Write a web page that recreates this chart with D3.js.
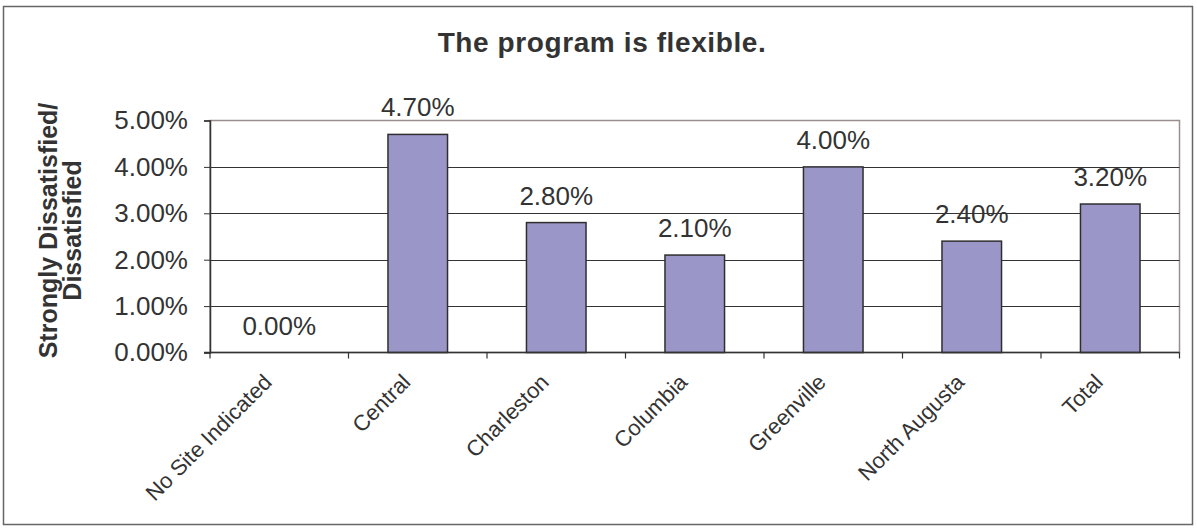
<!DOCTYPE html>
<html><head><meta charset="utf-8">
<script src="https://cdn.jsdelivr.net/npm/d3@7"></script>
<style>
body{margin:0;background:#fff}
svg{display:block}
text{font-family:"Liberation Sans",Arial,sans-serif;fill:#333}
</style>
</head><body><svg id="c" width="1197" height="529"></svg>
<script>
const categories = ["No Site Indicated","Central","Charleston","Columbia","Greenville","North Augusta","Total"];
const values = [0.000, 0.047, 0.028, 0.021, 0.040, 0.024, 0.032];
const yTicks = [0, 0.01, 0.02, 0.03, 0.04, 0.05];
const chartTitle = "The program is flexible.";
const yTitleLines = ["Strongly Dissatisfied/", "Dissatisfied"];

const W = 1197, H = 529;
const plot = {left: 210, right: 1179.5, top: 120.5, bottom: 352.5};
const svg = d3.select("#c");

// outer frame
svg.append("rect").attr("x", 3.5).attr("y", 6.5).attr("width", 1189).attr("height", 518)
  .attr("fill", "#fff").attr("stroke", "#666").attr("stroke-width", 1.5);

const x = d3.scaleBand().domain(categories).range([plot.left, plot.right]).padding(0);
const y = d3.scaleLinear().domain([0, 0.05]).range([plot.bottom, plot.top]);
const fmt = d3.format(".2%");

// plot area border (top/right)
svg.append("rect").attr("x", plot.left).attr("y", plot.top)
  .attr("width", plot.right - plot.left).attr("height", plot.bottom - plot.top)
  .attr("fill", "none").attr("stroke", "#9a8e8e").attr("stroke-width", 1.5);

// gridlines
svg.append("g").selectAll("line").data(yTicks.filter(t => t > 0 && t < 0.05)).join("line")
  .attr("x1", plot.left).attr("x2", plot.right)
  .attr("y1", d => Math.round(y(d)) + 0.5).attr("y2", d => Math.round(y(d)) + 0.5)
  .attr("stroke", "#333").attr("stroke-width", 1);

// bars
const barFrac = 0.43;
svg.append("g").selectAll("rect").data(categories.map((c, i) => ({c, v: values[i]})).filter(d => d.v > 0)).join("rect")
  .attr("x", d => x(d.c) + x.bandwidth() * (1 - barFrac) / 2)
  .attr("width", x.bandwidth() * barFrac)
  .attr("y", d => y(d.v))
  .attr("height", d => y(0) - y(d.v))
  .attr("fill", "#9b96c8").attr("stroke", "#2e2e2e").attr("stroke-width", 1.5);

// y axis
const yAxis = d3.axisLeft(y).tickValues(yTicks).tickFormat(fmt).tickSize(6).tickPadding(16);
const gy = svg.append("g").attr("transform", `translate(${plot.left},0)`).call(yAxis);
gy.select(".domain").attr("stroke", "#333").attr("stroke-width", 1.5);
gy.selectAll(".tick line").attr("stroke", "#333");
gy.selectAll(".tick text").attr("font-size", 26).attr("fill", "#333")
  .attr("font-family", '"Liberation Sans",Arial,sans-serif');

// x axis line and boundary ticks
svg.append("line").attr("x1", plot.left - 6).attr("x2", plot.right)
  .attr("y1", plot.bottom).attr("y2", plot.bottom).attr("stroke", "#333").attr("stroke-width", 1.5);
const bounds = categories.map(c => x(c)).concat([x.range()[1]]);
svg.append("g").selectAll("line").data(bounds).join("line")
  .attr("x1", d => d).attr("x2", d => d)
  .attr("y1", plot.bottom).attr("y2", plot.bottom + 6)
  .attr("stroke", "#333").attr("stroke-width", 1.2);

// x labels
svg.append("g").selectAll("text").data(categories).join("text")
  .attr("transform", d => `translate(${x(d) + x.bandwidth() / 2 - 6},${plot.bottom + 31}) rotate(-45)`)
  .attr("text-anchor", "end").attr("font-size", 22).text(d => d);

// data labels
svg.append("g").selectAll("text").data(categories.map((c, i) => ({c, v: values[i]}))).join("text")
  .attr("x", d => x(d.c) + x.bandwidth() / 2)
  .attr("y", d => y(d.v) - 18)
  .attr("text-anchor", "middle").attr("font-size", 26).text(d => fmt(d.v));

// title
svg.append("text").attr("x", 602).attr("y", 52).attr("text-anchor", "middle")
  .attr("font-size", 28).attr("font-weight", "bold").attr("letter-spacing", 0.6).text(chartTitle);

// y title
const yt = svg.append("text").attr("transform", `translate(0,${(plot.top + plot.bottom) / 2 - 6}) rotate(-90)`)
  .attr("text-anchor", "middle").attr("font-size", 25).attr("font-weight", "bold");
yt.append("tspan").attr("x", 0).attr("y", 57).text(yTitleLines[0]);
yt.append("tspan").attr("x", 0).attr("y", 81).text(yTitleLines[1]);
</script>
</body></html>
